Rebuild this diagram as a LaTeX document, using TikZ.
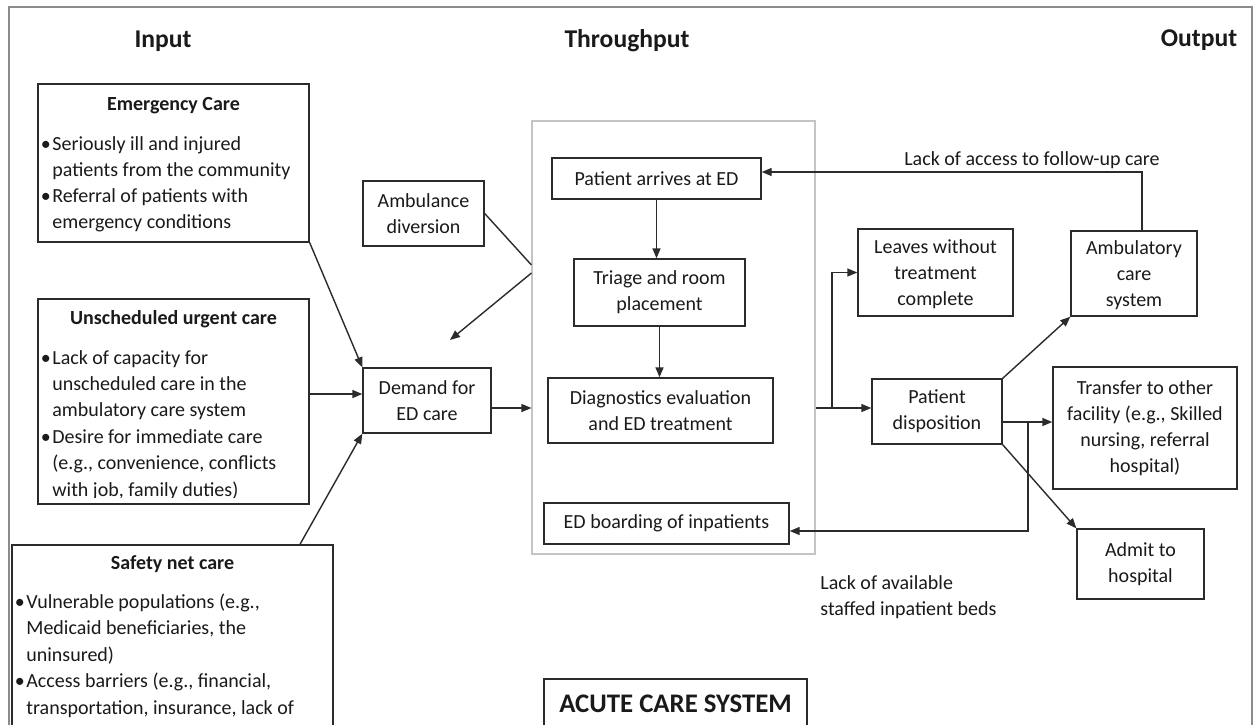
\documentclass[tikz,border=0pt]{standalone}
\usepackage{fontspec}
\setmainfont{Carlito}
\usetikzlibrary{arrows.meta,fit}

\definecolor{ink}{HTML}{1A1A1A}
\definecolor{edge}{HTML}{2B2B2B}
\definecolor{framegray}{HTML}{8C8C8C}
\definecolor{panelgray}{HTML}{C4C4C4}

\newcommand\bodyfont{\fontsize{10}{13}\selectfont}
\newcommand\headfont{\fontsize{12.8}{15}\selectfont\bfseries}
\newcommand\acutefont{\fontsize{13.4}{16}\selectfont\bfseries}
\newcommand\bl{\llap{\textbullet\hspace{0.8pt}}}

\tikzset{
  box/.style={draw=edge, line width=0.7pt, inner sep=0pt, align=center, font=\bodyfont, text=ink},
  frame/.style={draw=edge, line width=0.7pt, inner sep=0pt},
  panel/.style={draw=panelgray, line width=0.55pt, inner sep=0pt},
  txt/.style={inner sep=0pt, font=\bodyfont, text=ink},
  ttl/.style={inner sep=0pt, font=\bodyfont\bfseries, text=ink, anchor=base},
  head/.style={inner sep=0pt, font=\headfont, text=ink, anchor=base},
  flow/.style={draw=edge, line width=0.7pt, -{Triangle[length=5pt,width=4pt]}},
  plain/.style={draw=edge, line width=0.7pt},
}

% boxed label spanning the pixel rectangle (#2,#3)-(#4,#5), named #6
\newcommand\labelbox[7][]{%
  \node[box, minimum width={(#4-#2)*0.5pt}, minimum height={(#5-#3)*0.5pt}, #1]
    (#6) at ({(#2+#4)/2},{(#3+#5)/2}) {#7};}

\begin{document}
\begin{tikzpicture}[x=0.5pt,y=-0.5pt]
\clip (0,0) rectangle (1257,724);
\fill[white] (0,0) rectangle (1257,724);

% page frame
\node[draw=framegray, line width=1pt, inner sep=0pt, fit={(9,7)(1252,770)}] (page) {};

% column headings
\node[head] (hin)  at (163,47)  {Input};
\node[head] (hthr) at (627,47)  {Throughput};
\node[head] (hout) at (1199,46) {Output};

% ---------- input boxes ----------
\node[frame, fit={(38,84)(309,242)}] (emer) {};
\node[ttl] (emert) at (173.5,110) {Emergency Care};
\foreach \t [count=\i from 0] in {{\bl Seriously ill and injured},{patients from the community},{\bl Referral of patients with},{emergency conditions}}
  \node[txt, anchor=base west] (emer-\i) at (52,{150+26*\i}) {\t};

\node[frame, fit={(38,299)(309,504)}] (unsch) {};
\node[ttl] (unscht) at (173.5,324) {Unscheduled urgent care};
\begin{scope}
  \clip (38,299) rectangle (309,497);
  \foreach \t [count=\i from 0] in {{\bl Lack of capacity for},{unscheduled care in the},{ambulatory care system},{\bl Desire for immediate care},{(e.g., convenience, conflicts},{with job, family duties)}}
    \node[txt, anchor=base west] (unsch-\i) at (52,{364+26.4*\i}) {\t};
\end{scope}

\node[frame, fit={(12,545)(333,770)}] (safety) {};
\node[ttl] (safetyt) at (172.5,569) {Safety net care};
\foreach \t [count=\i from 0] in {{\bl Vulnerable populations (e.g.,},{Medicaid beneficiaries, the},{uninsured)},{\bl Access barriers (e.g., financial,},{transportation, insurance, lack of}}
  \node[txt, anchor=base west] (safety-\i) at (26,{608+26.5*\i}) {\t};

\labelbox{363}{181}{484}{246}{ambdiv}{Ambulance\\diversion}
\labelbox{363}{368}{491}{433}{demand}{Demand for\\ED care}

% ---------- throughput ----------
\node[panel, fit={(532,121)(815,554)}] (thr) {};
\labelbox{552}{158}{761}{199}{arrive}{Patient arrives at ED}
\labelbox{574}{259}{745}{326}{triage}{Triage and room\\placement}
\labelbox{548}{378}{773}{443}{diag}{Diagnostics evaluation\\and ED treatment}
\labelbox{544}{503}{789}{544}{board}{ED boarding of inpatients}

\node[frame, fit={(544,679)(807,770)}] (acutebox) {};
\node[inner sep=0pt, font=\acutefont, text=ink, anchor=base] (acute) at (675.5,712) {ACUTE CARE SYSTEM};

% ---------- output ----------
\labelbox[text depth=-1pt]{858}{229}{1013}{316}{leave}{Leaves without\\treatment\\complete}
\labelbox[text depth=-4pt]{1071}{231}{1197}{316}{ambc}{Ambulatory\\care\\system}
\labelbox{872}{379}{1002}{444}{disp}{Patient\\disposition}
\labelbox{1053}{367}{1237}{489}{trans}{Transfer to other\\facility (e.g., Skilled\\nursing, referral\\hospital)}
\labelbox{1077}{529}{1204}{599}{admit}{Admit to\\hospital}

\node[txt, anchor=base] (lackfu) at (1032,165) {Lack of access to follow-up care};
\node[txt, anchor=base west] (lackbeds1) at (820,589) {Lack of available};
\node[txt, anchor=base west] (lackbeds2) at (820,615) {staffed inpatient beds};

% ---------- connectors ----------
\coordinate (ambfree) at (450,340);
\coordinate (split1) at (832,408);
\coordinate (split2) at (1028,422);

\draw[flow] (emer.south east) -- (demand.north west);
\draw[flow] (unsch.east |- 0,394) -- (demand.west |- 0,394);
\draw[flow] (safety.north -| 300,0) -- (demand.south west);
\draw[plain] (ambdiv.east) -- (thr.west |- 0,265);
\draw[flow] (thr.west |- 0,273) -- (ambfree);
\draw[flow] (demand.east |- 0,408) -- (thr.west |- 0,408);

\draw[flow] (arrive.south) -- (arrive.south |- triage.north);
\draw[flow] (triage.south) -- (triage.south |- diag.north);

\draw[flow] (ambc.north -| 1142,0) |- (arrive.east |- 0,172);
\draw[flow] (thr.east |- split1) -- (disp.west |- split1);
\draw[flow] (split1) |- (leave.west);
\draw[flow] (disp.north east) -- (ambc.south west);
\draw[flow] (disp.east |- split2) -- (trans.west |- split2);
\draw[flow] (split2) |- (board.east |- 0,531);
\draw[flow] (disp.south east) -- (admit.north west);
\end{tikzpicture}
\end{document}
